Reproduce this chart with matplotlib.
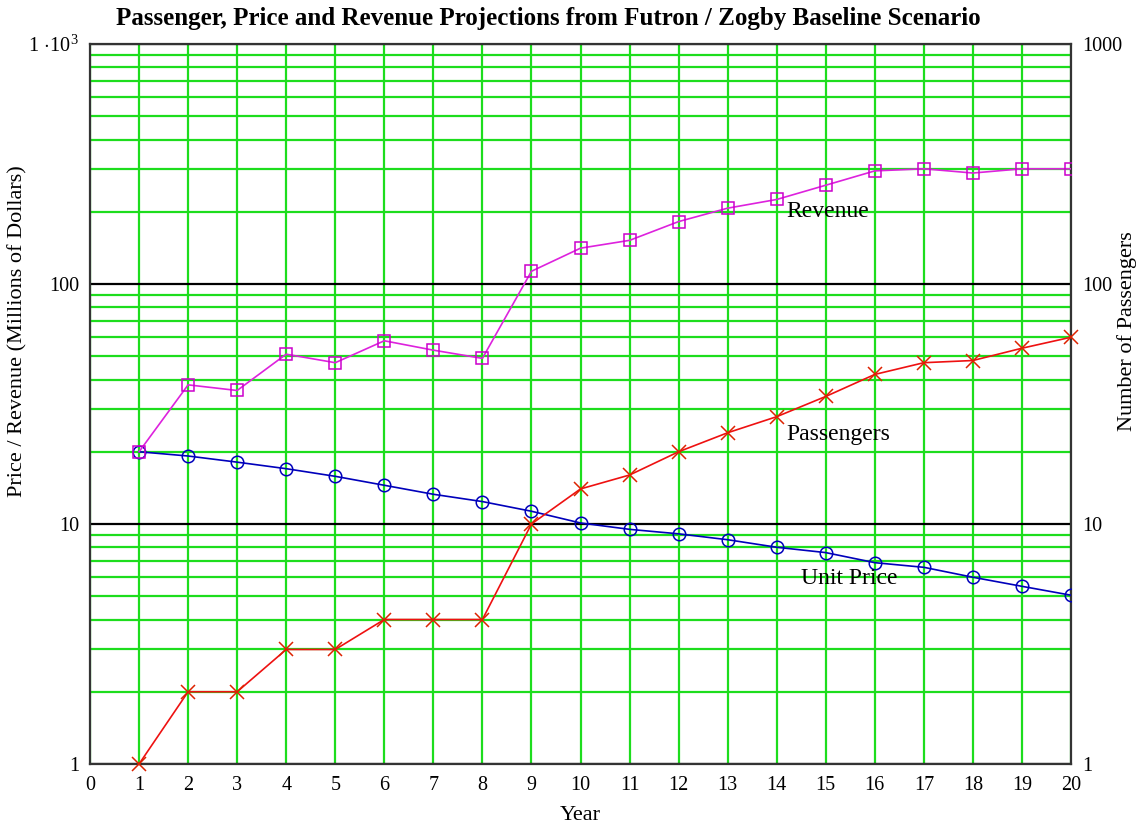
import numpy as np
import matplotlib
matplotlib.use("Agg")
import matplotlib.pyplot as plt
from matplotlib.ticker import FixedLocator, LogLocator, NullFormatter

plt.rcParams['font.family'] = ['Liberation Serif', 'DejaVu Serif']
plt.rcParams['mathtext.fontset'] = 'custom'
plt.rcParams['mathtext.rm'] = 'Liberation Serif'
plt.rcParams['mathtext.it'] = 'Liberation Serif'

years = list(range(1, 21))
unit_price = [20.0, 19.2, 18.1, 17.0, 15.8, 14.5, 13.3, 12.4, 11.3, 10.1,
              9.5, 9.1, 8.6, 8.0, 7.6, 6.9, 6.6, 6.0, 5.5, 5.05]
passengers = [1, 2, 2, 3, 3, 4, 4, 4, 10, 14,
              16, 20, 24, 28, 34, 42, 47, 48, 54, 60]
revenue = [20, 38, 36, 51, 47, 58, 53, 49, 113, 141,
           152, 182, 207, 225, 258, 296, 302, 290, 302, 302]

left_ticks = [1, 10, 100, 1000]
left_labels = ['1', '10', '100', r'$1\,\cdot\!10^{3}$']
right_labels = ['1', '10', '100', '1000']

W, H = 1141, 827
fig = plt.figure(figsize=(W / 100, H / 100), dpi=100)
fig.subplots_adjust(left=90/W, right=1071/W, top=1-44/H, bottom=1-764/H)
ax = fig.add_subplot(111)

ax.set_xlim(0, 20)
ax.set_ylim(1, 1000)
ax.set_yscale('log')
ax.set_xticks(range(0, 21))
ax.yaxis.set_major_locator(FixedLocator(left_ticks))
ax.set_yticklabels(left_labels)
ax.yaxis.set_minor_locator(LogLocator(base=10, subs=np.arange(2, 10)))
ax.yaxis.set_minor_formatter(NullFormatter())

green = '#1ddd1d'
ax.grid(True, which='major', axis='x', color=green, lw=1.6, zorder=0)
ax.grid(True, which='minor', axis='y', color=green, lw=1.6, zorder=0)
ax.grid(True, which='major', axis='y', color='black', lw=1.6, zorder=0)
ax.set_axisbelow(True)
for s in ax.spines.values():
    s.set_color('#333333')
    s.set_linewidth(1.6)

ax.tick_params(which='both', length=0, labelsize=14.5, pad=8)
ax.tick_params(axis='x', pad=9)

ax.plot(years, unit_price, color='#0000bb', lw=1.2, marker='o', ms=9,
        mfc='none', mec='#0000bb', mew=1.1, zorder=3)
ax.plot(years, revenue, color='#dd22dd', lw=1.2, marker='s', ms=9,
        mfc='none', mec='#cc00cc', mew=1.1, zorder=3)

# passengers go on the right-hand axis (same 1..1000 log range)
ax2 = ax.twinx()
ax2.set_yscale('log')
ax2.set_ylim(1, 1000)
ax2.yaxis.set_major_locator(FixedLocator(left_ticks))
ax2.set_yticklabels(right_labels)
ax2.yaxis.set_minor_formatter(NullFormatter())
ax2.tick_params(which='both', length=0, labelsize=14.5, pad=8)
ax2.plot(years, passengers, color='#ee1111', lw=1.2, marker='x', ms=10,
         mec='#dd2200', mew=1.1, zorder=3, clip_on=False)
for s in ax2.spines.values():
    s.set_visible(False)

ax.text(14.2, 200, 'Revenue', fontsize=17, va='center', ha='left', zorder=4)
ax.text(14.2, 23.5, 'Passengers', fontsize=17, va='center', ha='left', zorder=4)
ax.text(14.5, 5.9, 'Unit Price', fontsize=17, va='center', ha='left', zorder=4)

fig.text(580/W, 1 - 815/H, 'Year', fontsize=16, ha='center', va='center')
fig.text(18/W, 1 - 331/H, 'Price / Revenue (Millions of Dollars)', fontsize=16,
         rotation=90, ha='center', va='center')
fig.text(1127/W, 1 - 331/H, 'Number of Passengers', fontsize=16,
         rotation=90, ha='center', va='center')
fig.text(548/W, 1 - 18/H,
         'Passenger, Price and Revenue Projections from Futron / Zogby Baseline Scenario',
         fontsize=18, fontweight='bold', ha='center', va='center')

fig.savefig('out.png', dpi=100)
plt.close(fig)
